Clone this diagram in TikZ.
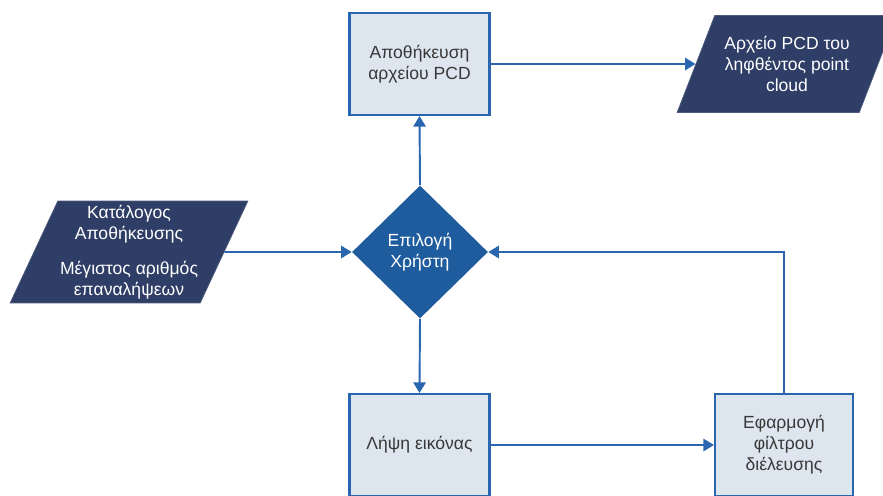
\documentclass[tikz,border=0pt]{standalone}
\usepackage{fontspec}
\setmainfont{Liberation Sans}
\usetikzlibrary{shapes,arrows.meta,positioning,calc}
\definecolor{lineblue}{HTML}{2A66B0}
\definecolor{boxfill}{HTML}{DDE5EF}
\definecolor{navy}{HTML}{2F3E66}
\definecolor{choiceblue}{HTML}{1F5C9E}

\begin{document}
\begin{tikzpicture}[x=0.02cm, y=-0.02cm,
    txt/.style={font=\fontsize{10}{12}\selectfont, align=center},
    process/.style={txt, rectangle, draw=lineblue, line width=1.2pt, fill=boxfill, text=black!78, minimum width=2.8cm, minimum height=2.04cm},
    io/.style={txt, trapezium, trapezium stretches=true, inner sep=0.5pt, fill=navy, draw=navy!85!white, text=white},
    decision/.style={txt, diamond, fill=choiceblue, text=white, minimum width=2.72cm, minimum height=2.66cm, inner sep=0pt},
    flow/.style={draw=lineblue, line width=1.1pt, -{Triangle[length=6pt,width=7pt]}}]
    \useasboundingbox (0,0) rectangle (883,495);

    \node [process] (store) at (419.5,64) {Αποθήκευση\\αρχείου PCD};
    \node [io, trapezium left angle=60, trapezium right angle=120, minimum width=4.4cm, minimum height=1.94cm] (pcd) at (787,64) {Αρχείο PCD του\\ληφθέντος point\\cloud};
    \node [decision] (choice) at (420,252) {Επιλογή\\Χρήστη};
    \node [io, trapezium left angle=64, trapezium right angle=116, minimum width=4.76cm, minimum height=2.04cm] (params) at (129,252) {Κατάλογος\\Αποθήκευσης\\[8pt]Μέγιστος αριθμός\\επαναλήψεων};
    \node [process] (capture) at (419.5,445) {Λήψη εικόνας};
    \node [process, minimum width=2.76cm] (filter) at (784,445) {Εφαρμογή\\φίλτρου\\διέλευσης};

    % Flow between the steps
    \draw [flow] (params.east) -- (choice.west);
    \draw [flow] (choice.north) -- (store.south);
    \draw [flow] (store.east) -- (pcd.west);
    \draw [flow] (choice.south) -- (capture.north);
    \draw [flow] (capture.east) -- (filter.west);
    \draw [flow] (filter.north) |- (choice.east);
\end{tikzpicture}
\end{document}
